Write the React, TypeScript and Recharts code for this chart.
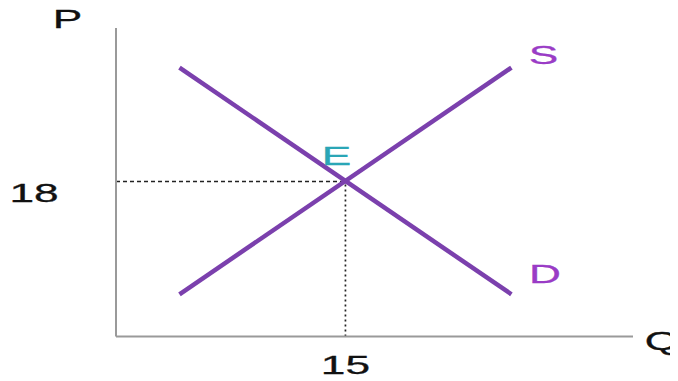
import React from 'react';
import { ComposedChart, Line, XAxis, YAxis, ReferenceLine, ReferenceDot, Label } from 'recharts';

const demandQ = [4.15, 25.85];
const demandP = [31.2, 4.9];
const supplyQ = [4.15, 25.85];
const supplyP = [4.9, 31.2];
const eqQ = 15;
const eqP = 18;
const xTicks = [15];
const yTicks = [18];
const Q_MAX = 33.8;
const P_MAX = 35.8;

const demandData = demandQ.map((q, i) => ({ q, p: demandP[i] }));
const supplyData = supplyQ.map((q, i) => ({ q, p: supplyP[i] }));

const FONT = '"Liberation Sans", Arial, Helvetica, sans-serif';
const LINE_COLOR = '#7b40ad';
const LABEL_PURPLE = '#9a3cc6';
const TEAL = '#2aa6b6';

const SText = ({ x, y, fill = '#111', children }: any) => (
  <text
    transform={`translate(${x},${y}) scale(1.7,1)`}
    textAnchor="middle"
    fontSize={26}
    fontFamily={FONT}
    fill={fill}
    stroke={fill}
    strokeWidth={0.3}
  >
    {children}
  </text>
);

const YTick = (props: any) => {
  const { x, y, payload } = props;
  return <SText x={x - 74} y={y + 20.5}>{payload.value}</SText>;
};

const XTick = (props: any) => {
  const { x, y, payload } = props;
  return <SText x={x} y={y + 29.5}>{payload.value}</SText>;
};

const renderP = (props: any) => {
  const vb = props.viewBox;
  return <SText x={vb.x + 11.5} y={vb.y}>P</SText>;
};

const renderQ = (props: any) => {
  const vb = props.viewBox;
  return <SText x={vb.x + vb.width + 29} y={vb.y + 13.5}>Q</SText>;
};

const renderE = (props: any) => {
  const vb = props.viewBox;
  return <SText x={vb.x - 9} y={vb.y - 16.5} fill={TEAL}>E</SText>;
};

const endLabel = (text: string, dx: number, dy: number) => (props: any) => {
  const { x, y, index } = props;
  if (index !== 1) return null;
  return <SText key={text} x={x + dx} y={y + dy} fill={LABEL_PURPLE}>{text}</SText>;
};

export default function App() {
  return (
    <ComposedChart width={670} height={373} margin={{ top: 20, right: 45, bottom: 14.5, left: 48 }}>
      <XAxis
        type="number"
        dataKey="q"
        domain={[0, Q_MAX]}
        ticks={xTicks}
        tickLine={false}
        axisLine={{ stroke: '#9a9a9a', strokeWidth: 2 }}
        tick={<XTick />}
        height={30}
        allowDataOverflow
      >
        <Label content={renderQ} />
      </XAxis>
      <YAxis
        type="number"
        dataKey="p"
        domain={[0, P_MAX]}
        ticks={yTicks}
        tickLine={false}
        axisLine={{ stroke: '#9a9a9a', strokeWidth: 2 }}
        tick={<YTick />}
        width={60}
        allowDataOverflow
      >
        <Label content={renderP} />
      </YAxis>
      <ReferenceLine
        segment={[{ x: 0, y: eqP }, { x: eqQ, y: eqP }]}
        stroke="#222"
        strokeWidth={1.5}
        strokeDasharray="4 3"
      />
      <ReferenceLine
        segment={[{ x: eqQ, y: 0 }, { x: eqQ, y: eqP }]}
        stroke="#222"
        strokeWidth={1.7}
        strokeDasharray="2 3"
      />
      <Line
        data={demandData}
        dataKey="p"
        type="linear"
        stroke={LINE_COLOR}
        strokeWidth={4.5}
        dot={false}
        activeDot={false}
        isAnimationActive={false}
        label={endLabel('D', 33.5, -11)}
      />
      <Line
        data={supplyData}
        dataKey="p"
        type="linear"
        stroke={LINE_COLOR}
        strokeWidth={4.5}
        dot={false}
        activeDot={false}
        isAnimationActive={false}
        label={endLabel('S', 32, -4)}
      />
      <ReferenceDot x={eqQ} y={eqP} r={0} fill="none" stroke="none">
        <Label content={renderE} />
      </ReferenceDot>
    </ComposedChart>
  );
}
